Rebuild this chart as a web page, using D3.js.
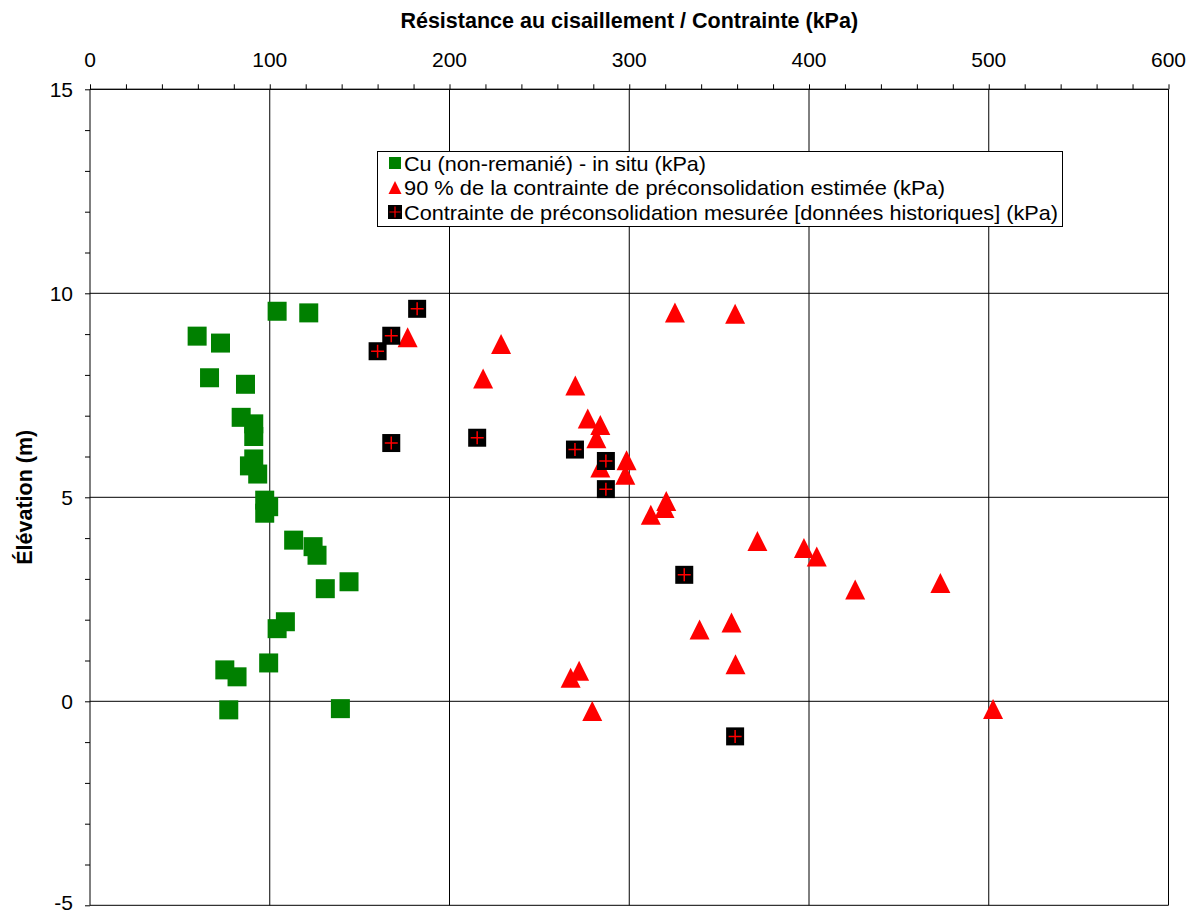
<!DOCTYPE html>
<html>
<head>
<meta charset="utf-8">
<script src="https://cdn.jsdelivr.net/npm/d3@7"></script>
<style>
  html, body { margin: 0; padding: 0; background: #fff; }
  svg { display: block; font-family: "Liberation Sans", Arial, sans-serif; }
</style>
</head>
<body>
<svg id="chart" width="1201" height="915"></svg>
<script>
// Cu (non-remanié) - in situ : [kPa, élévation m]
const cuX = [104.1, 121.7, 59.6, 72.6, 66.5, 86.5, 84.1, 91.1, 91.1, 91.1, 88.7, 93.3, 97.2, 99.4, 97.2,
             113.3, 124.1, 126.3, 130.9, 144.1, 108.7, 104.1, 99.4, 75.0, 81.8, 77.2, 139.3];
const cuY = [9.56, 9.52, 8.95, 8.78, 7.93, 7.77, 6.96, 6.80, 6.49, 5.94, 5.77, 5.57, 4.93, 4.77, 4.61,
             3.95, 3.79, 3.58, 2.76, 2.93, 1.95, 1.78, 0.94, 0.77, 0.60, -0.21, -0.18];

// 90 % de la contrainte de préconsolidation estimée
const pcEstX = [176.7, 325.4, 358.9, 228.7, 218.7, 270.0, 276.9, 283.9, 281.7, 283.9, 298.5, 297.8, 320.6, 319.6,
                312.0, 371.3, 397.2, 404.3, 425.7, 473.1, 339.1, 356.9, 359.1, 272.1, 267.4, 279.4, 502.4];
const pcEstY = [8.92, 9.53, 9.50, 8.76, 7.91, 7.74, 6.93, 6.77, 6.45, 5.73, 5.91, 5.55, 4.91, 4.74,
                4.57, 3.93, 3.76, 3.55, 2.74, 2.90, 1.76, 1.93, 0.91, 0.75, 0.58, -0.24, -0.19];

// Contrainte de préconsolidation mesurée [données historiques]
const pcMesX = [182.0, 167.6, 160.0, 167.6, 215.4, 269.8, 287.0, 287.0, 330.6, 358.9];
const pcMesY = [9.62, 8.96, 8.58, 6.33, 6.46, 6.17, 5.89, 5.20, 3.10, -0.86];

const xTicks = [0, 100, 200, 300, 400, 500, 600];
const yTicks = [-5, 0, 5, 10, 15];

const legendLabels = [
  "Cu (non-remanié) - in situ (kPa)",
  "90 % de la contrainte de préconsolidation estimée (kPa)",
  "Contrainte de préconsolidation mesurée [données historiques] (kPa)"
];
const xTitle = "Résistance au cisaillement / Contrainte (kPa)";
const yTitle = "Élévation (m)";

const svg = d3.select("#chart");
const plotL = 90, plotR = 1168.5, plotT = 89.3, plotB = 905.3;

const x = d3.scaleLinear().domain([0, 600]).range([plotL, plotR]);
const y = d3.scaleLinear().domain([-5, 15]).range([plotB, plotT]);

const zip = (a, b) => a.map((v, i) => [v, b[i]]);

// grid lines
const grid = svg.append("g");
grid.selectAll("line.vg").data(xTicks.slice(1)).join("line")
  .attr("class", "vg")
  .attr("x1", d => x(d)).attr("x2", d => x(d))
  .attr("y1", plotT).attr("y2", plotB)
  .attr("stroke", "#000").attr("stroke-width", 1);
grid.selectAll("line.hg").data(yTicks).join("line")
  .attr("class", "hg")
  .attr("x1", plotL).attr("x2", plotR)
  .attr("y1", d => y(d)).attr("y2", d => y(d))
  .attr("stroke", "#000").attr("stroke-width", 1);

// axes
const xAxis = d3.axisTop(x).tickValues(d3.range(0, 601, 20)).tickSize(5).tickFormat("");
const gx = svg.append("g").attr("transform", `translate(0,${plotT})`).call(xAxis);
gx.select(".domain").attr("d", `M${plotL},0H${plotR}`).attr("stroke", "#000");
gx.selectAll("line").attr("stroke", "#000");

const yAxis = d3.axisLeft(y).tickValues(d3.range(-5, 16, 1)).tickSize(5).tickFormat("");
const gy = svg.append("g").attr("transform", `translate(${plotL},0)`).call(yAxis);
gy.select(".domain").attr("d", `M0,${plotT}V${plotB}`).attr("stroke", "#000");
gy.selectAll("line").attr("stroke", "#000");

// tick labels
svg.append("g").selectAll("text").data(xTicks).join("text")
  .attr("x", d => x(d)).attr("y", 67)
  .attr("text-anchor", "middle")
  .attr("font-size", 21).attr("fill", "#000")
  .text(d => d);
svg.append("g").selectAll("text").data(yTicks).join("text")
  .attr("x", 73).attr("y", d => Math.min(y(d) + 7.5, 910))
  .attr("text-anchor", "end")
  .attr("font-size", 21).attr("fill", "#000")
  .text(d => d);

// axis titles
svg.append("text")
  .attr("x", (plotL + plotR) / 2).attr("y", 28)
  .attr("text-anchor", "middle")
  .attr("font-size", 21.5).attr("font-weight", "bold")
  .text(xTitle);
svg.append("text")
  .attr("transform", `translate(32,${(plotT + plotB) / 2}) rotate(-90)`)
  .attr("text-anchor", "middle")
  .attr("font-size", 21.5).attr("font-weight", "bold")
  .text(yTitle);

// series
const sq = 19, tri = 20, blk = 18;
const triPath = s => `M0,${-s / 2}L${s / 2},${s / 2}L${-s / 2},${s / 2}Z`;
const crossPath = c => `M${-c / 2},0H${c / 2}M0,${-c / 2}V${c / 2}`;

const marks = svg.append("g");
marks.selectAll("rect.cu").data(zip(cuX, cuY)).join("rect")
  .attr("class", "cu")
  .attr("x", d => x(d[0]) - sq / 2).attr("y", d => y(d[1]) - sq / 2)
  .attr("width", sq).attr("height", sq)
  .attr("fill", "#008000");

marks.selectAll("path.est").data(zip(pcEstX, pcEstY)).join("path")
  .attr("class", "est")
  .attr("transform", d => `translate(${x(d[0])},${y(d[1])})`)
  .attr("d", triPath(tri))
  .attr("fill", "#ff0000");

const mes = marks.selectAll("g.mes").data(zip(pcMesX, pcMesY)).join("g")
  .attr("class", "mes")
  .attr("transform", d => `translate(${x(d[0])},${y(d[1])})`);
mes.append("rect").attr("x", -blk / 2).attr("y", -blk / 2)
  .attr("width", blk).attr("height", blk).attr("fill", "#000");
mes.append("path").attr("d", crossPath(13))
  .attr("stroke", "#ff0000").attr("stroke-width", 1.5);

// legend
const lg = svg.append("g");
lg.append("rect").attr("x", 377.5).attr("y", 151.5)
  .attr("width", 685).attr("height", 75)
  .attr("fill", "#fff").attr("stroke", "#000");
const rows = lg.selectAll("g.row").data(legendLabels).join("g")
  .attr("class", "row")
  .attr("transform", (d, i) => `translate(395,${163 + i * 24.5})`);
rows.append("text").attr("x", 9).attr("y", 7.5)
  .attr("font-size", 21).attr("fill", "#000")
  .attr("textLength", (d, i) => [302, 541, 654][i])
  .attr("lengthAdjust", "spacingAndGlyphs")
  .text(d => d);
rows.filter((d, i) => i === 0).append("rect")
  .attr("x", -6).attr("y", -6).attr("width", 12).attr("height", 12).attr("fill", "#008000");
rows.filter((d, i) => i === 1).append("path")
  .attr("d", triPath(13)).attr("fill", "#ff0000");
const r3 = rows.filter((d, i) => i === 2);
r3.append("rect").attr("x", -7).attr("y", -7).attr("width", 14).attr("height", 14).attr("fill", "#000");
r3.append("path").attr("d", crossPath(11)).attr("stroke", "#ff0000").attr("stroke-width", 1.2);
</script>
</body>
</html>
